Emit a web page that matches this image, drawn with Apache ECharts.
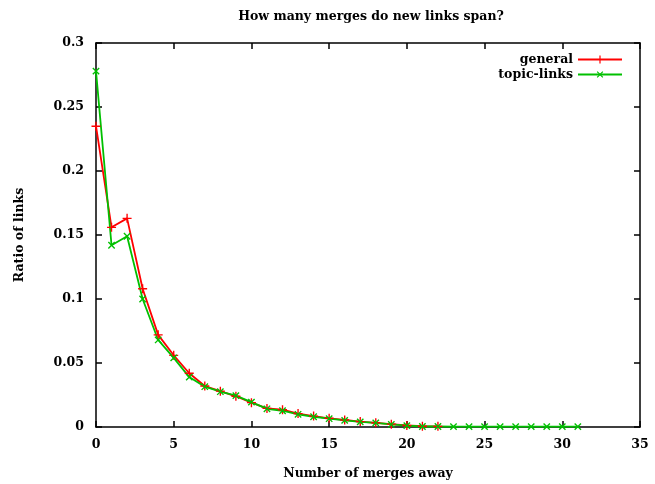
<!DOCTYPE html>
<html><head><meta charset="utf-8">
<script src="https://cdn.jsdelivr.net/npm/echarts@6/dist/echarts.min.js"></script>
<style>html,body{margin:0;padding:0;background:#fff}#c{width:655px;height:484px}</style>
</head><body><div id="c"></div>
<script>
const xGeneral = [0,1,2,3,4,5,6,7,8,9,10,11,12,13,14,15,16,17,18,19,20,21,22];
const general = [0.235,0.156,0.163,0.108,0.072,0.056,0.042,0.032,0.028,0.024,0.019,0.0145,0.0135,0.0105,0.0085,0.0068,0.0055,0.0042,0.0033,0.0022,0.0012,0.0006,0.0005];
const xTopic = [0,1,2,3,4,5,6,7,8,9,10,11,12,13,14,15,16,17,18,19,20,21,22,23,24,25,26,27,28,29,30,31];
const topic = [0.278,0.142,0.149,0.100,0.068,0.054,0.039,0.0315,0.0276,0.0245,0.0194,0.0142,0.0127,0.0099,0.008,0.0065,0.0052,0.004,0.0032,0.002,0.0011,0.0004,0.0004,0.0003,0.0003,0.0003,0.0003,0.0003,0.0003,0.0003,0.0003,0.0003];
const xTicks = [0,5,10,15,20,25,30,35];
const yTicks = [0,0.05,0.1,0.15,0.2,0.25,0.3];

const FONT = '"DejaVu Serif", "Liberation Serif", serif';
const FS = 12.5;
const plus = 'path://M0,4.25 L10,4.25 L10,5.75 L0,5.75 Z M4.25,0 L5.75,0 L5.75,10 L4.25,10 Z';
const chart = echarts.init(document.getElementById('c'));
const tickCommon = {inside: true, length: 6, lineStyle: {color: '#000', width: 1.5}};
const txt = {fontFamily: FONT, fontWeight: 'bold', fontSize: FS, color: '#000'};
chart.setOption({
  animation: false,
  title: {text: 'How many merges do new links span?', left: 366, textAlign: 'center', top: 5,
    textStyle: txt},
  grid: {left: 96, right: 15, top: 43, bottom: 57, containLabel: false, outerBoundsMode: 'none'},
  legend: {orient: 'vertical', right: 27, top: 48, align: 'right', itemWidth: 44, itemHeight: 10, itemGap: 2,
    textStyle: txt},
  xAxis: [{type: 'value', min: 0, max: 35, interval: 5, position: 'bottom',
    name: 'Number of merges away', nameLocation: 'middle', nameGap: 40,
    nameTextStyle: txt,
    axisLine: {show: true, onZero: false, lineStyle: {color: '#000', width: 1.5}},
    axisTick: tickCommon, splitLine: {show: false},
    axisLabel: Object.assign({margin: 11, formatter: v => xTicks.includes(v) ? String(v) : ''}, txt)},
   {type: 'value', min: 0, max: 35, interval: 5, position: 'top',
    axisLine: {show: true, onZero: false, lineStyle: {color: '#000', width: 1.5}},
    axisTick: tickCommon, splitLine: {show: false}, axisLabel: {show: false}}],
  yAxis: [{type: 'value', min: 0, max: 0.3, interval: 0.05, position: 'left',
    name: 'Ratio of links', nameLocation: 'middle', nameGap: 70, nameRotate: 90,
    nameTextStyle: txt,
    axisLine: {show: true, onZero: false, lineStyle: {color: '#000', width: 1.5}},
    axisTick: tickCommon, splitLine: {show: false},
    axisLabel: Object.assign({margin: 12,
      formatter: v => { const t = yTicks.find(k => Math.abs(k - v) < 1e-9); return t === undefined ? '' : String(t); }}, txt)},
   {type: 'value', min: 0, max: 0.3, interval: 0.05, position: 'right',
    axisLine: {show: true, onZero: false, lineStyle: {color: '#000', width: 1.5}},
    axisTick: tickCommon, splitLine: {show: false}, axisLabel: {show: false}}],
  series: [
    {name: 'general', type: 'line', data: xGeneral.map((x, i) => [x, general[i]]),
     symbol: plus, symbolSize: 9, showAllSymbol: true, color: '#ff0000',
     lineStyle: {width: 1.8, color: '#ff0000'}, itemStyle: {color: '#ff0000'}},
    {name: 'topic-links', type: 'line', data: xTopic.map((x, i) => [x, topic[i]]),
     symbol: plus, symbolSize: 9, symbolRotate: 45, showAllSymbol: true, color: '#00c000',
     lineStyle: {width: 1.8, color: '#00c000'}, itemStyle: {color: '#00c000'}}
  ]
});
</script></body></html>
